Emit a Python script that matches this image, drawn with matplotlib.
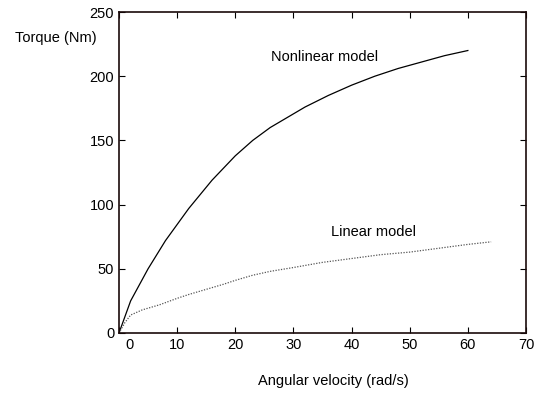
import numpy as np
import matplotlib
matplotlib.use("Agg")
import matplotlib.pyplot as plt
import matplotlib.transforms as mtransforms

plt.rcParams['font.family'] = ['Liberation Sans', 'DejaVu Sans']

# nonlinear model (solid)
nl_w = [0, 2, 5, 8, 12, 16, 20, 23, 26, 29, 32, 36, 40, 44, 48, 52, 56, 60]
nl_t = [0, 25, 50, 72, 97, 119, 138, 150, 160, 168, 176, 185, 193, 200, 206, 211, 216, 220]

# linear model (dotted)
li_w = [0, 1, 2, 4, 7, 10, 12, 15, 18, 20, 23, 26, 30, 35, 40, 45, 50, 55, 60, 64]
li_t = [0, 8, 14, 18, 22, 27, 30, 34, 38, 41, 45, 48, 51, 55, 58, 61, 63, 66, 69, 71]

xticks = [0, 10, 20, 30, 40, 50, 60, 70]
yticks = [0, 50, 100, 150, 200, 250]

fs = 10.5
fig = plt.figure(figsize=(5.59, 4.0), dpi=100)
ax = fig.add_axes([119/559, 1-333/400, (526-119)/559, (333-12)/400])

ax.plot(nl_w, nl_t, color='black', lw=0.9)
ax.plot(li_w, li_t, color='#555555', lw=0.9, linestyle=(0, (1, 1.2)))

ax.set_xlim(0, 70)
ax.set_ylim(0, 250)
ax.set_xticks(xticks)
ax.set_yticks(yticks)
ax.tick_params(direction='in', top=True, right=True, length=4, labelsize=fs, width=0.8)
for s in ax.spines.values():
    s.set_linewidth(1.2)
    s.set_color('#1a0a0a')

# the 0 label is shifted right in the original
lbl = ax.get_xticklabels()
off = mtransforms.ScaledTranslation(10/100, 0, fig.dpi_scale_trans)
lbl[0].set_transform(lbl[0].get_transform() + off)

ax.text(26.2, 215, 'Nonlinear model', fontsize=fs, va='center')
ax.text(36.4, 79, 'Linear model', fontsize=fs, va='center')

fig.text(15/559, 1-38/400, 'Torque (Nm)', fontsize=fs, va='center')
fig.text(333/559, 1-381/400, 'Angular velocity (rad/s)', fontsize=fs, ha='center', va='center')

fig.savefig('out.png', dpi=100)
